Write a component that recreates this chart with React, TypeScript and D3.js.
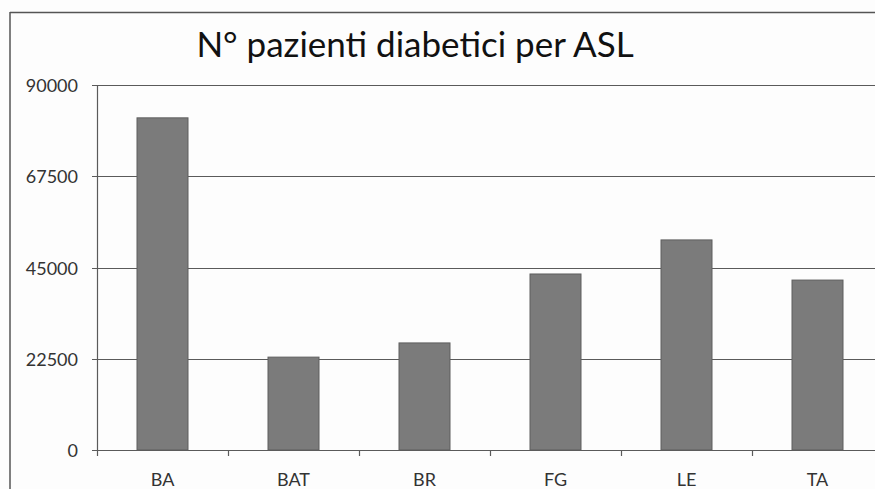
import React from "react";
import * as d3 from "d3";

const categories = ["BA", "BAT", "BR", "FG", "LE", "TA"];
const values = [81900, 22900, 26400, 43400, 51800, 41900];
const yTicks = [0, 22500, 45000, 67500, 90000];
const title = "N° pazienti diabetici per ASL";

export default function App() {
  const W = 875, H = 489;
  const left = 97, top = 85, bottom = 450;
  const band = 131;
  const x = d3.scaleBand<string>().domain(categories).range([left, left + band * categories.length]).paddingInner(0).paddingOuter(0);
  const y = d3.scaleLinear().domain([0, 90000]).range([bottom, top]);
  const barW = 51;
  const font = "Lato, 'Open Sans', sans-serif";
  const grid = "#5a5a5a";
  return (
    <svg width={W} height={H} style={{ position: "fixed", left: 0, top: 0, background: "#fff" }}>
      <rect x={0} y={0} width={W} height={H} fill="#fdfdfd" />
      {/* outer frame */}
      <line x1={10} y1={12} x2={10} y2={H} stroke="#555" strokeWidth={1.5} />
      <line x1={10} y1={12.5} x2={W} y2={12.5} stroke="#555" strokeWidth={1.5} />
      <text x={415} y={57} textAnchor="middle" fontFamily={font} fontSize={35} fill="#111">{title}</text>
      {/* gridlines */}
      {yTicks.map((t) => (
        <g key={t}>
          <line x1={left - 5} x2={W} y1={Math.round(y(t)) + 0.5} y2={Math.round(y(t)) + 0.5} stroke={grid} strokeWidth={1.2} />
          <text x={78} y={y(t) + 7} textAnchor="end" fontFamily={font} fontSize={18} fill="#333">{t}</text>
        </g>
      ))}
      {/* y axis */}
      <line x1={left + 0.5} x2={left + 0.5} y1={top} y2={bottom} stroke={grid} strokeWidth={1.2} />
      {/* x ticks */}
      {categories.map((c, i) => (
        <line key={c} x1={left + band * i + 0.5} x2={left + band * i + 0.5} y1={bottom} y2={bottom + 6} stroke={grid} strokeWidth={1.2} />
      ))}
      {/* bars */}
      {categories.map((c, i) => {
        const cx = (x(c) as number) + x.bandwidth() / 2;
        return (
          <rect key={c} x={cx - barW / 2} y={y(values[i])} width={barW} height={bottom - y(values[i])}
            fill="#7b7b7b" stroke="#5e5e5e" strokeWidth={1} />
        );
      })}
      {/* x labels */}
      {categories.map((c) => (
        <text key={c} x={(x(c) as number) + x.bandwidth() / 2} y={486} textAnchor="middle" fontFamily={font} fontSize={18} fill="#333">{c}</text>
      ))}
    </svg>
  );
}
